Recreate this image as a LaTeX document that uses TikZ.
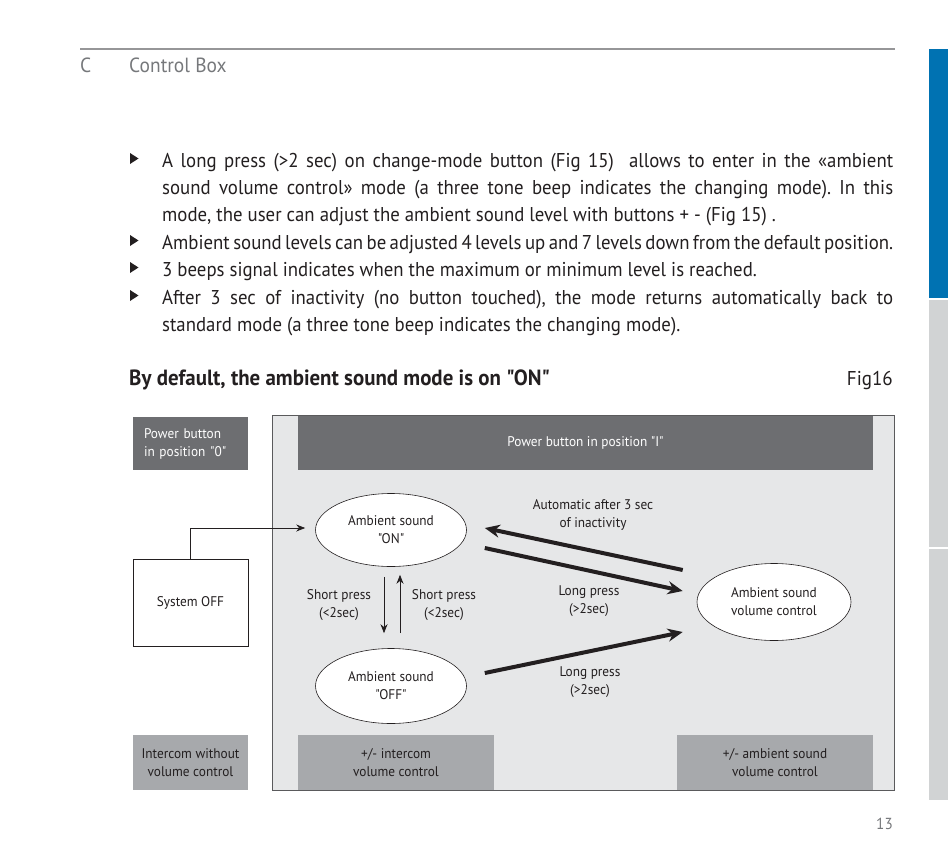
\documentclass[tikz,border=0pt]{standalone}
\usepackage{fontspec}
\newfontfamily\pts[FakeStretch=0.95]{PT Sans}
\newfontfamily\ptb[FakeStretch=0.94]{PT Sans}
\usetikzlibrary{shapes.geometric,arrows.meta,calc}
\definecolor{txt}{RGB}{35,31,32}
\definecolor{hdr}{RGB}{118,120,123}
\definecolor{hline}{RGB}{150,150,152}
\definecolor{blueb}{RGB}{0,114,178}
\definecolor{sideg}{RGB}{209,211,212}
\definecolor{darkb}{RGB}{109,110,113}
\definecolor{midb}{RGB}{167,169,172}
\definecolor{framefill}{RGB}{230,231,232}
\definecolor{frameline}{RGB}{90,90,92}
\frenchspacing
\begin{document}
\begin{tikzpicture}[x=1pt,y=-1pt,
  bodyline/.style={anchor=base west, inner sep=0pt, text=txt, font=\ptb\fontsize{20}{27}\selectfont},
  diagtext/.style={text=txt, align=center, inner sep=0pt, font=\pts\fontsize{14}{18}\selectfont},
  darkbox/.style={fill=darkb, text=white, inner sep=0pt, font=\pts\fontsize{14}{18}\selectfont},
  midbox/.style={fill=midb, text=txt, align=center, inner sep=0pt, font=\pts\fontsize{14}{18}\selectfont},
  state/.style={ellipse, draw=txt, fill=white, line width=0.6pt, minimum width=151pt, minimum height=73pt, inner sep=0pt, align=center, text=txt, font=\pts\fontsize{14}{18}\selectfont},
  thinarrow/.style={draw=txt, line width=0.8pt, -{Stealth[length=9pt,width=7pt]}},
  thickarrow/.style={draw=txt, line width=4pt, -{Stealth[length=15pt,width=13pt]}},
  bullet/.style={fill=txt}
]
\useasboundingbox (0,0) rectangle (950,848);
% header
\draw[hline, line width=2pt] (80,49) -- (895,49);
\node[anchor=base west, inner sep=0pt, text=hdr, font=\pts\fontsize{20.5}{24}\selectfont] (hc) at (80,73) {C};
\node[anchor=base west, inner sep=0pt, text=hdr, font=\pts\fontsize{20.5}{24}\selectfont] (hcb) at (129,73) {Control Box};
% side bar
\fill[blueb] (929,49) rectangle (948,298);
\fill[sideg] (929,300) rectangle (948,547);
\fill[sideg] (929,549) rectangle (948,800);
% bullets
\foreach \b in {167,249,276,304} {\fill[bullet] (130,\b-14) -- (138.5,\b-8.5) -- (130,\b-3) -- cycle;}
% body text
\node[bodyline] (l1) at (162,167) {\makebox[731pt][s]{A long press (>2 sec) on change-mode button (Fig 15)\ \ allows to enter in the «ambient}};
\node[bodyline] (l2) at (162,194) {\makebox[731pt][s]{sound volume control» mode (a three tone beep indicates the changing mode). In this}};
\node[bodyline] (l3) at (162,221.5) {mode, the user can adjust the ambient sound level with buttons + - (Fig 15) .};
\node[bodyline] (l4) at (162,249) {\makebox[731pt][s]{Ambient sound levels can be adjusted 4 levels up and 7 levels down from the default position.}};
\node[bodyline] (l5) at (162,276) {3 beeps signal indicates when the maximum or minimum level is reached.};
\node[bodyline] (l6) at (162,304) {\makebox[731pt][s]{After 3 sec of inactivity (no button touched), the mode returns automatically back to}};
\node[bodyline] (l7) at (162,331) {standard mode (a three tone beep indicates the changing mode).};
% heading
\node[anchor=base west, inner sep=0pt, text=txt, font=\pts\fontsize{22}{26}\selectfont\bfseries] (head) at (129,385) {By default, the ambient sound mode is on "ON"};
\node[anchor=base east, inner sep=0pt, text=txt, font=\pts\fontsize{20}{24}\selectfont] (fig) at (893,385) {Fig16};
% diagram frame
\node[draw=frameline, fill=framefill, line width=1pt, minimum width=622pt, minimum height=375pt, inner sep=0pt] (frame) at (583,602.5) {};
\node[darkbox, minimum width=115pt, minimum height=53pt, text width=93pt, align=left] (pb0) at (190.5,443.5) {Power button\\in position "0"};
\node[darkbox, minimum width=575pt, minimum height=54pt, align=center] (pb1) at (585.5,443) {Power button in position "I"};
\node[draw=txt, fill=white, line width=0.8pt, minimum width=115pt, minimum height=87pt, inner sep=0pt, text=txt, font=\pts\fontsize{14}{18}\selectfont] (sysoff) at (190.5,602.5) {System OFF};
\node[midbox, minimum width=115pt, minimum height=55pt] (icw) at (190.5,762.5) {Intercom without\\volume control};
\node[midbox, minimum width=196pt, minimum height=55pt] (icv) at (396,762.5) {+/- intercom\\volume control};
\node[midbox, minimum width=196pt, minimum height=55pt] (asv) at (775,762.5) {+/- ambient sound\\volume control};
% states
\node[state] (on) at (391,530) {Ambient sound\\"ON"};
\node[state, minimum height=75pt] (off) at (391,686) {Ambient sound\\"OFF"};
\node[state, minimum width=154pt, minimum height=77pt] (vol) at (774,602) {Ambient sound\\volume control};
% thin connectors
\draw[thinarrow, shorten >=10pt] (sysoff.north) |- ([yshift=2pt]on.west);
\draw[thinarrow] ([xshift=-7pt,yshift=-10pt]on.south) -- ([xshift=-7pt,yshift=15pt]off.north);
\draw[thinarrow] ([xshift=9pt,yshift=15pt]off.north) -- ([xshift=9pt,yshift=-8pt]on.south);
\node[diagtext] (sp1) at (339,605) {Short press\\(<2sec)};
\node[diagtext] (sp2) at (444,605) {Short press\\(<2sec)};
% thick connectors
\coordinate (a1s) at ($(vol.west)+(-14,-32)$);
\coordinate (a1e) at ($(on.east)+(18,-2)$);
\coordinate (a2s) at ($(on.east)+(18,18)$);
\coordinate (a2e) at ($(vol.west)+(-14,-11)$);
\coordinate (a3s) at ($(off.east)+(18,-13)$);
\coordinate (a3e) at ($(vol.west)+(-14,30)$);
\draw[thickarrow] (a1s) -- (a1e);
\draw[thickarrow] (a2s) -- (a2e);
\draw[thickarrow] (a3s) -- (a3e);
\node[diagtext] (lbauto) at (593,515) {Automatic after 3 sec\\of inactivity};
\node[diagtext] (lblp1) at (589,601) {Long press\\(>2sec)};
\node[diagtext] (lblp2) at (590,682) {Long press\\(>2sec)};
% page number
\node[anchor=base east, inner sep=0pt, text=hdr, font=\pts\fontsize{16}{18}\selectfont] (pg) at (893,829) {13};
\end{tikzpicture}
\end{document}
